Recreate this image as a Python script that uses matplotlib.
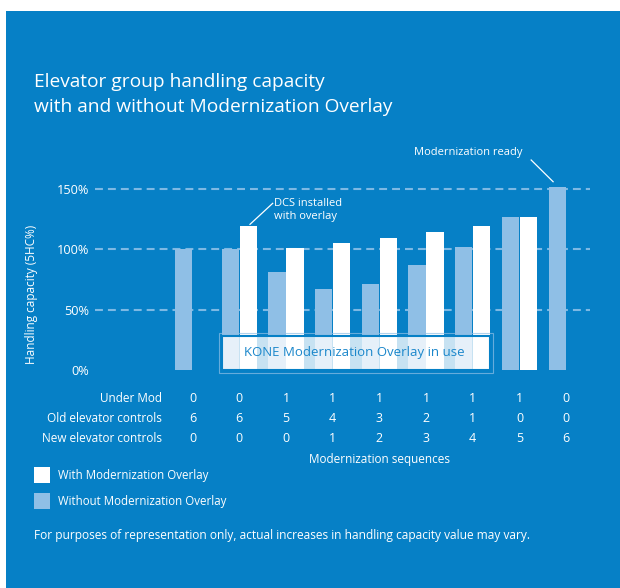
import numpy as np
import matplotlib.pyplot as plt
from matplotlib.patches import Rectangle
from matplotlib import transforms

plt.rcParams['font.family'] = ['Open Sans', 'DejaVu Sans']

# data
with_overlay = [np.nan, 119, 101, 105, 109, 114, 119, 127, np.nan]
without_overlay = [100, 100, 81, 67, 71, 87, 102, 127, 152]
under_mod = [0, 0, 1, 1, 1, 1, 1, 1, 0]
old_controls = [6, 6, 5, 4, 3, 2, 1, 0, 0]
new_controls = [0, 0, 0, 1, 2, 3, 4, 5, 6]
row_labels = ['Under Mod', 'Old elevator controls', 'New elevator controls']
yticks = [0, 50, 100, 150]
ytick_labels = ['0%', '50%', '100%', '150%']

bg = '#0680C6'
light = '#8FBFE6'
W, H = 620, 588

fig = plt.figure(figsize=(6.2, 5.88), dpi=100, facecolor='white')
fig.patches.append(Rectangle((6 / W, 0), 1, 1 - 11 / H, transform=fig.transFigure,
                             facecolor=bg, edgecolor='none', zorder=-10))

def fx(px):
    return px / W

def fy(py):
    return 1 - py / H

# axes: 0% at y=370px, 160% at ~177px ; x from 95 to 590 px
ax = fig.add_axes([fx(95), fy(370), fx(590) - fx(95), (370 - 176.9) / H])
ax.set_facecolor('none')
ax.set_xlim(-2.09, 8.51)
ax.set_ylim(0, 160)
for s in ax.spines.values():
    s.set_visible(False)

x = np.arange(len(without_overlay))
bw = 0.37
off = 0.193
ax.bar(x - off, without_overlay, bw, color=light, zorder=2)
ax.bar(x + off, with_overlay, bw, color='white', zorder=2)

for v in yticks[1:]:
    ax.axhline(v, color='#9CC8EC', alpha=0.8, lw=1.5, ls=(0, (3.8, 2.4)), zorder=1)

ax.set_xticks([])
ax.set_yticks(yticks)
ax.set_yticklabels(ytick_labels, color='white', fontsize=9.2)
ax.tick_params(axis='y', length=0, pad=4)
ax.set_ylabel('Handling capacity (5HC%)', color='white', fontsize=8.5)
ax.yaxis.set_label_coords(-0.115, 0.39)

# overlay box
ax.add_patch(Rectangle((0.565, -2.5), 5.865, 33.2, facecolor='none',
                       edgecolor=light, lw=0.8, alpha=0.7, clip_on=False, zorder=4))
ax.add_patch(Rectangle((0.63, 0), 5.74, 28.2, facecolor='white', alpha=0.78,
                       edgecolor='none', clip_on=False, zorder=3))
ax.add_patch(Rectangle((0.63, 0), 5.74, 28.2, facecolor='none',
                       edgecolor=bg, lw=1.5, clip_on=False, zorder=3.5))
ax.text(3.47, 14.5, 'KONE Modernization Overlay in use', color='#1B87CB',
        fontsize=9.5, ha='center', va='center', zorder=5)

# annotations
ax.plot([7.25, 7.72], [174, 156], color='white', lw=0.9, clip_on=False)
ax.text(5.9, 180, 'Modernization ready', color='white', fontsize=8,
        ha='center', va='center', clip_on=False)
ax.plot([1.715, 1.229], [138.1, 120.7], color='white', lw=0.9, clip_on=False)
ax.text(1.75, 132.8, 'DCS installed\nwith overlay', color='white', fontsize=8,
        ha='left', va='center', linespacing=1.25)

# title
fig.text(fx(33.6), fy(87), 'Elevator group handling capacity', color='white',
         fontsize=13.8, va='baseline')
fig.text(fx(33.6), fy(112), 'with and without Modernization Overlay', color='white',
         fontsize=13.8, va='baseline')

# table under the chart
tr = transforms.blended_transform_factory(ax.transData, fig.transFigure)
for row, label, ypx in zip([under_mod, old_controls, new_controls], row_labels, [398, 419, 439]):
    fig.text(fx(162), fy(ypx), label, color='white', fontsize=8.5, ha='right', va='center')
    for xi, v in zip(x, row):
        ax.text(xi, fy(ypx), str(v), transform=tr, color='white', fontsize=9,
                ha='center', va='center')
fig.text(fx(379.5), fy(460), 'Modernization sequences', color='white', fontsize=8.5,
         ha='center', va='center')

# legend
fig.patches.append(Rectangle((fx(34), fy(483)), 16 / W, 16 / H, transform=fig.transFigure,
                             facecolor='white', edgecolor='none'))
fig.patches.append(Rectangle((fx(34), fy(509)), 16 / W, 16 / H, transform=fig.transFigure,
                             facecolor=light, edgecolor='none'))
fig.text(fx(58), fy(476), 'With Modernization Overlay', color='white', fontsize=8.3, va='center')
fig.text(fx(58), fy(501), 'Without Modernization Overlay', color='white', fontsize=8.3, va='center')

fig.text(fx(33.6), fy(535), 'For purposes of representation only, actual increases in '
         'handling capacity value may vary.', color='white', fontsize=8.6, va='center')

fig.savefig('out.png', dpi=100, facecolor='white')
